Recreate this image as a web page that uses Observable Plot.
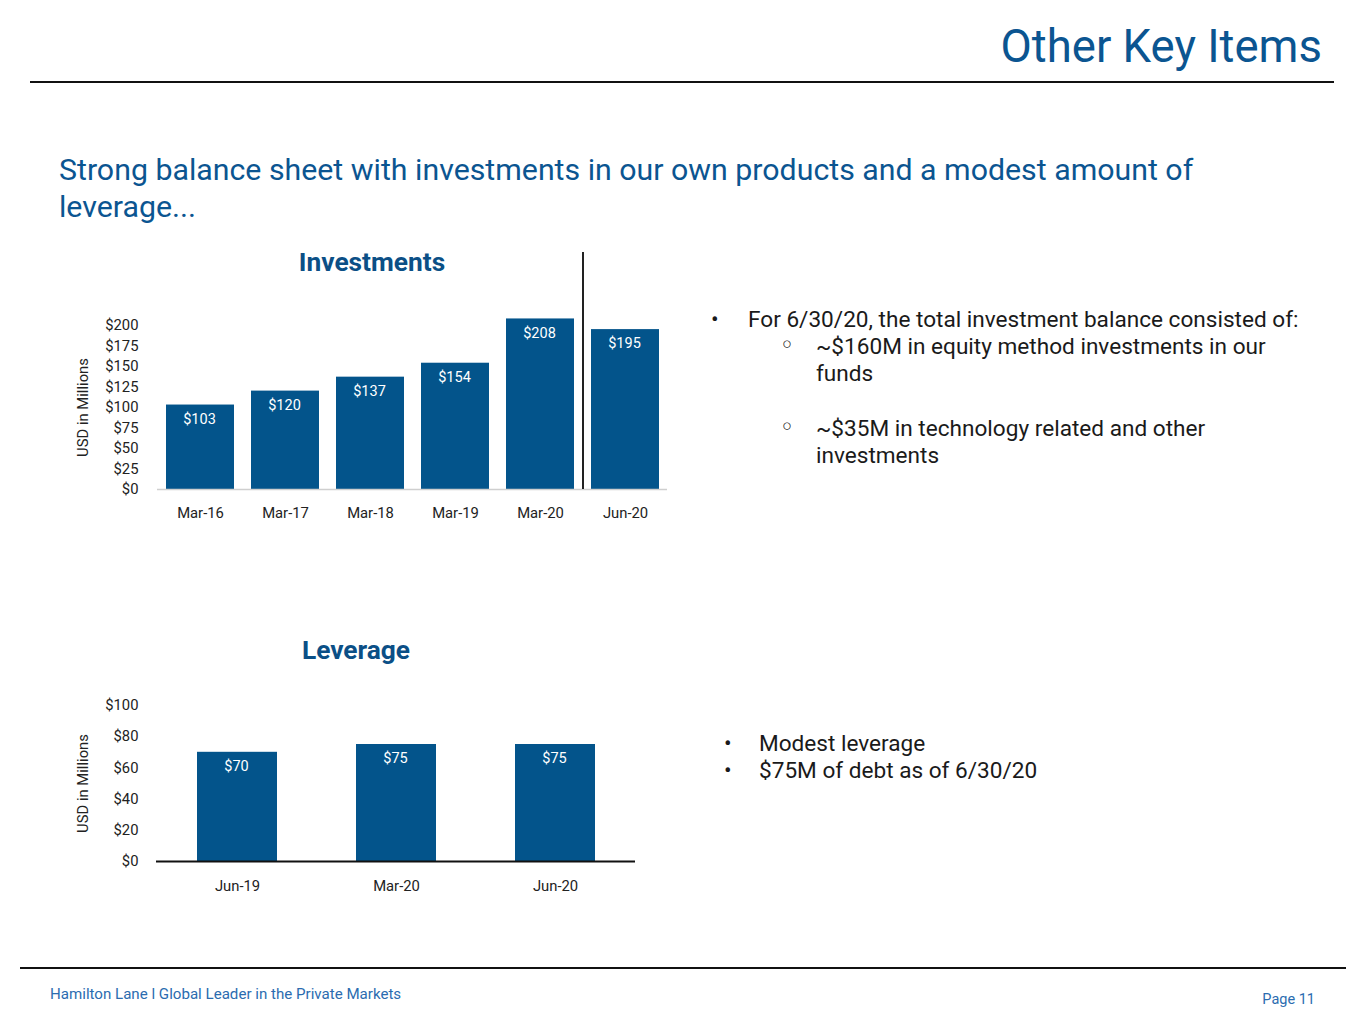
<!DOCTYPE html>
<html>
<head>
<meta charset="utf-8">
<script src="https://cdn.jsdelivr.net/npm/d3@7"></script>
<script src="https://cdn.jsdelivr.net/npm/@observablehq/plot@0.6"></script>
<style>
  html, body { margin: 0; padding: 0; background: #fff; }
  body { width: 1365px; height: 1024px; position: relative; overflow: hidden; font-family: Roboto, "Noto Sans", sans-serif; }
  .abs { position: absolute; }
  #title { right: 43px; top: 17px; font-size: 45.5px; color: #0b5591; line-height: 60px; white-space: nowrap; }
  #topline { left: 30px; top: 81px; width: 1304px; height: 2px; background: #111; }
  #subtitle { left: 59px; top: 151px; width: 1250px; font-size: 30.3px; color: #0b5591; line-height: 37px; }
  .ctitle { font-weight: bold; font-size: 26.3px; color: #0b4f86; text-align: center; width: 300px; }
  #t1 { left: 222px; top: 247px; }
  #t2 { left: 206px; top: 635px; }
  .bul { font-size: 22.6px; color: #1a1a1a; line-height: 27px; }
  .sub { font-family: "DejaVu Sans", sans-serif; font-size: 24px; line-height: 27px; }
  #chart1 { left: 0; top: 240px; }
  #chart2 { left: 0; top: 630px; }
  #botline { left: 20px; top: 967px; width: 1326px; height: 2px; background: #111; }
  #foot { left: 50px; top: 985px; font-size: 15.1px; color: #2b6cb0; }
  #page { right: 50px; top: 991px; font-size: 14.5px; color: #2b6cb0; }
</style>
</head>
<body>
<div id="title" class="abs">Other Key Items</div>
<div id="topline" class="abs"></div>
<div id="subtitle" class="abs">Strong balance sheet with investments in our own products and a modest amount of leverage...</div>
<div id="t1" class="abs ctitle">Investments</div>
<div id="t2" class="abs ctitle">Leverage</div>
<div id="chart1" class="abs"></div>
<div id="chart2" class="abs"></div>

<div class="abs bul" style="left:711px; top:306px;">•</div>
<div class="abs bul" style="left:748px; top:306px; white-space:nowrap;">For 6/30/20, the total investment balance consisted of:</div>
<div class="abs bul sub" style="left:780px; top:332px;">◦</div>
<div class="abs bul" style="left:816px; top:333px; width:480px;">~$160M in equity method investments in our<br>funds</div>
<div class="abs bul sub" style="left:780px; top:414px;">◦</div>
<div class="abs bul" style="left:816px; top:415px; width:480px;">~$35M in technology related and other<br>investments</div>

<div class="abs bul" style="left:724px; top:730px;">•</div>
<div class="abs bul" style="left:759px; top:730px; white-space:nowrap;">Modest leverage</div>
<div class="abs bul" style="left:724px; top:757px;">•</div>
<div class="abs bul" style="left:759px; top:757px; white-space:nowrap;">$75M of debt as of 6/30/20</div>

<div id="botline" class="abs"></div>
<div id="foot" class="abs">Hamilton Lane l Global Leader in the Private Markets</div>
<div id="page" class="abs">Page 11</div>

<script>
// ---- Data ----
const invPeriods = ["Mar-16", "Mar-17", "Mar-18", "Mar-19", "Mar-20", "Jun-20"];
const invValues  = [103, 120, 137, 154, 208, 195];
const invTicks   = [0, 25, 50, 75, 100, 125, 150, 175, 200];

const levPeriods = ["Jun-19", "Mar-20", "Jun-20"];
const levValues  = [70, 75, 75];
const levTicks   = [0, 20, 40, 60, 80, 100];

const separatorBefore = "Jun-20";
const axisLabel = "USD in Millions";

const barColor = "#03548b";
const fmt = v => "$" + v;

const invData = invPeriods.map((p, i) => ({period: p, value: invValues[i]}));
const levData = levPeriods.map((p, i) => ({period: p, value: levValues[i]}));

const commonStyle = {fontFamily: "Roboto, 'Noto Sans', sans-serif", fontSize: "14.8px", color: "#222", background: "transparent", overflow: "visible"};

// ---- Investments ----
const c1 = Plot.plot({
  width: 680, height: 290,
  marginLeft: 157, marginRight: 13, marginTop: 85, marginBottom: 41,
  style: commonStyle,
  x: {domain: invPeriods, paddingInner: 0.2, paddingOuter: 0.1, tickSize: 0, tickPadding: 18, label: null},
  y: {domain: [0, 200], ticks: invTicks, tickFormat: fmt, tickSize: 0, tickPadding: 19,
      label: axisLabel, labelArrow: "none", labelAnchor: "center", labelOffset: 80},
  marks: [
    Plot.barY(invData, {x: "period", y: "value", fill: barColor}),
    Plot.ruleY([0], {stroke: "#cfcfcf", strokeWidth: 1.5}),
    Plot.text(invData, {x: "period", y: "value", text: d => fmt(d.value), fill: "white", dy: 14, dx: -1, fontSize: 14.5}),
    Plot.ruleX([separatorBefore], {dx: -42.5, y1: 0, y2: 289, stroke: "#222", strokeWidth: 2})
  ]
});
document.getElementById("chart1").appendChild(c1);

// ---- Leverage ----
const c2 = Plot.plot({
  width: 680, height: 270,
  marginLeft: 156, marginRight: 45, marginTop: 75, marginBottom: 39,
  style: commonStyle,
  x: {domain: levPeriods, paddingInner: 0.5, paddingOuter: 0.25, tickSize: 0, tickPadding: 19, label: null},
  y: {domain: [0, 100], ticks: levTicks, tickFormat: fmt, tickSize: 0, tickPadding: 18,
      label: axisLabel, labelArrow: "none", labelAnchor: "center", labelOffset: 79},
  marks: [
    Plot.barY(levData, {x: "period", y: "value", fill: barColor}),
    Plot.ruleY([0], {stroke: "#111", strokeWidth: 2}),
    Plot.text(levData, {x: "period", y: "value", text: d => fmt(d.value), fill: "white", dy: 14, dx: -1, fontSize: 14.5})
  ]
});
document.getElementById("chart2").appendChild(c2);
</script>
</body>
</html>
